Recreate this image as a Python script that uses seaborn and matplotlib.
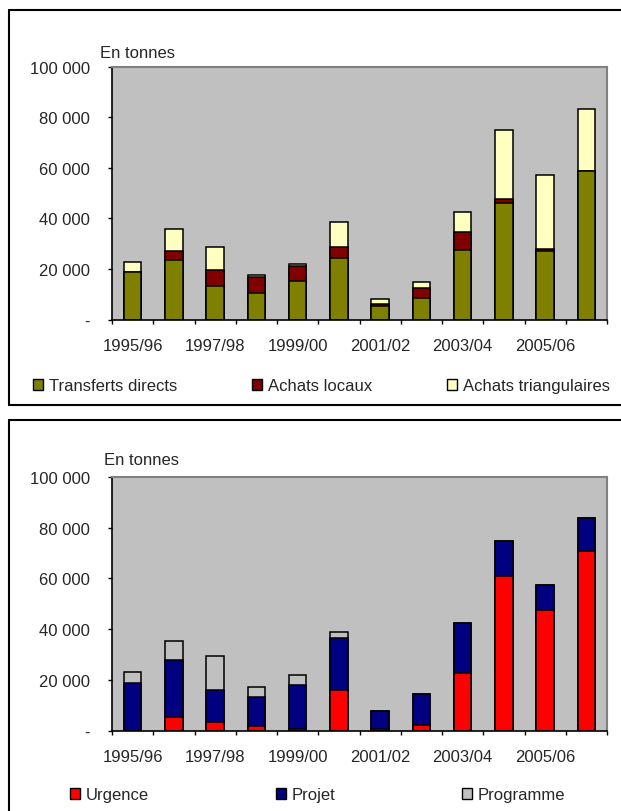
import numpy as np
import pandas as pd
import matplotlib
matplotlib.use("Agg")
import matplotlib.pyplot as plt
from matplotlib.patches import Patch
from matplotlib.lines import Line2D
import seaborn as sns

# Campaign years
periods = ["1995/96", "1996/97", "1997/98", "1998/99", "1999/00", "2000/01",
           "2001/02", "2002/03", "2003/04", "2004/05", "2005/06", "2006/07"]

# Food aid by mode of supply (tonnes)
transferts_directs = [19000, 23700, 13300, 10500, 15100, 24200, 5500, 8400, 27600, 45900, 27200, 58800]
achats_locaux = [0, 3300, 6400, 6200, 6200, 4500, 700, 4000, 7000, 1700, 700, 0]
achats_triangulaires = [3600, 8700, 9100, 800, 800, 9700, 1800, 2300, 7900, 27300, 29300, 24600]

# Food aid by category (tonnes)
urgence = [0, 5500, 3700, 2000, 800, 16000, 800, 2500, 22800, 61000, 47600, 70700]
projet = [19000, 22600, 12600, 11400, 17200, 20400, 6900, 12100, 19600, 13700, 9700, 13200]
programme = [4100, 7300, 13000, 3900, 3900, 2400, 0, 0, 0, 0, 0, 0]

y_ticks = [0, 20000, 40000, 60000, 80000, 100000]
y_tick_labels = ["-", "20 000", "40 000", "60 000", "80 000", "100 000"]
x_tick_labels = periods[::2]

sns.set_style("white")
plt.rcParams["font.family"] = ["Liberation Sans", "DejaVu Sans"]
plt.rcParams["font.size"] = 12

W, H = 621, 812
fig = plt.figure(figsize=(W / 100, H / 100), dpi=100)

def px_axes(left, top, right, bottom):
    return fig.add_axes([left / W, 1 - bottom / H, (right - left) / W, (bottom - top) / H])

def stacked(ax, series, colors):
    df = pd.DataFrame({"period": periods})
    cum = np.zeros(len(periods))
    cums = []
    for s in series:
        cum = cum + np.asarray(s, dtype=float)
        cums.append(cum.copy())
    # draw from the tallest cumulative total down so lower segments sit on top
    for c, col in reversed(list(zip(cums, colors))):
        df["v"] = c
        sns.barplot(data=df, x="period", y="v", order=periods, color=col,
                    saturation=1, width=0.42, edgecolor="black", linewidth=1.1,
                    errorbar=None, ax=ax)

def style_axes(ax):
    ax.set_facecolor("#C0C0C0")
    ax.set_xlim(-0.5, len(periods) - 0.5)
    ax.set_ylim(0, 100000)
    ax.set_xlabel("")
    ax.set_ylabel("")
    ax.set_yticks(y_ticks, labels=y_tick_labels)
    ax.set_xticks(np.arange(-0.5, len(periods), 1.0), labels=[""] * (len(periods) + 1))
    ax.set_xticks(np.arange(0, len(periods), 2), labels=x_tick_labels, minor=True)
    ax.tick_params(axis="y", which="major", length=3, width=1, pad=13, direction="out",
                   left=True, color="black", labelsize=12)
    ax.tick_params(axis="x", which="major", length=3, width=1, direction="out",
                   bottom=True, color="black")
    ax.tick_params(axis="x", which="minor", length=0, pad=13, labelsize=12)
    for side in ("left", "bottom"):
        ax.spines[side].set_visible(True)
        ax.spines[side].set_color("black")
        ax.spines[side].set_linewidth(1.2)
    for side in ("top", "right"):
        ax.spines[side].set_visible(True)
        ax.spines[side].set_color("#808080")
        ax.spines[side].set_linewidth(1.5)

# Panel frames
lw = 1.5
fig.add_artist(Line2D([9 / W, 1.02], [1 - 10.5 / H] * 2, color="black", lw=lw, transform=fig.transFigure))
fig.add_artist(Line2D([9 / W, 1.02], [1 - 406 / H] * 2, color="black", lw=lw, transform=fig.transFigure))
fig.add_artist(Line2D([9 / W] * 2, [1 - 10.5 / H, 1 - 406 / H], color="black", lw=lw, transform=fig.transFigure))
fig.add_artist(Line2D([9 / W, 1.02], [1 - 421 / H] * 2, color="black", lw=lw, transform=fig.transFigure))
fig.add_artist(Line2D([9 / W] * 2, [1 - 421 / H, -0.02], color="black", lw=lw, transform=fig.transFigure))

# Top chart: by mode of supply
top_colors = ["#808000", "#800000", "#FFFFC0"]
ax1 = px_axes(112, 67.5, 607, 320.7)
stacked(ax1, [transferts_directs, achats_locaux, achats_triangulaires], top_colors)
style_axes(ax1)
fig.text(100 / W, 1 - 53 / H, "En tonnes", ha="left", va="center", fontsize=12)

top_handles = [Patch(facecolor=c, edgecolor="black", linewidth=1.0) for c in top_colors]
fig.legend(top_handles, ["Transferts directs", "Achats locaux", "Achats triangulaires"],
           loc="center left", bbox_to_anchor=(33 / W, 1 - 387 / H), ncol=3, frameon=False,
           borderpad=0, borderaxespad=0, handlelength=0.6, handleheight=0.6,
           handletextpad=0.35, columnspacing=4.5, fontsize=12)

# Bottom chart: by category
bot_colors = ["#FF0000", "#000080", "#C0C0C0"]
ax2 = px_axes(112, 477.7, 607, 732)
stacked(ax2, [urgence, projet, programme], bot_colors)
style_axes(ax2)
fig.text(104 / W, 1 - 461 / H, "En tonnes", ha="left", va="center", fontsize=12)

bot_handles = [Patch(facecolor=c, edgecolor="black", linewidth=1.0) for c in bot_colors]
fig.legend(bot_handles, ["Urgence", "Projet", "Programme"],
           loc="center left", bbox_to_anchor=(70 / W, 1 - 796 / H), ncol=3, frameon=False,
           borderpad=0, borderaxespad=0, handlelength=0.6, handleheight=0.6,
           handletextpad=0.35, columnspacing=7.6, fontsize=12)

fig.savefig("out.png", dpi=100, facecolor="white")
